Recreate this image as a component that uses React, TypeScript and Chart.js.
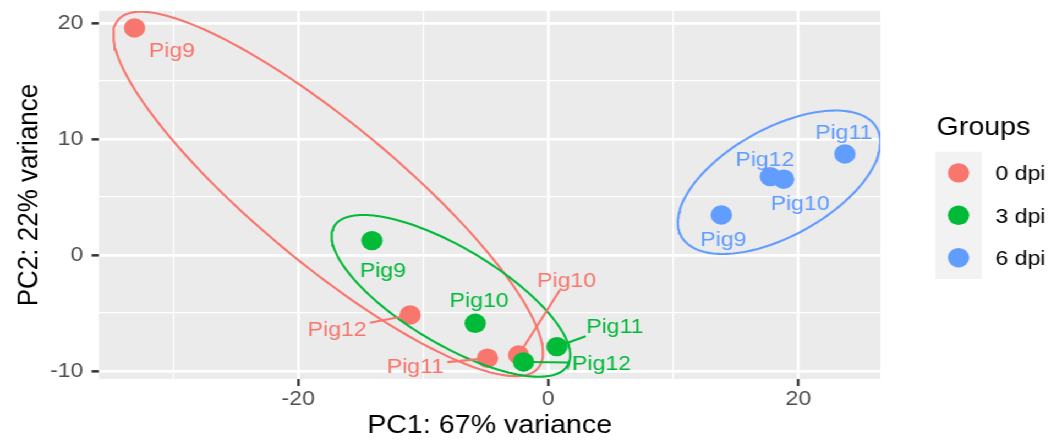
import React, { useEffect, useRef } from 'react';
import { Chart, registerables } from 'chart.js';

Chart.register(...registerables);

// ---------- data ----------
const GROUPS = ['0 dpi', '3 dpi', '6 dpi'];
const SAMPLES = ['Pig9', 'Pig10', 'Pig11', 'Pig12'];

const PC1_0DPI = [-33.08, -2.37, -4.86, -11.04];
const PC2_0DPI = [19.57, -8.62, -8.9, -5.17];
const PC1_3DPI = [-14.1, -5.84, 0.69, -1.98];
const PC2_3DPI = [1.24, -5.89, -7.9, -9.22];
const PC1_6DPI = [13.84, 18.82, 23.72, 17.76];
const PC2_6DPI = [3.45, 6.53, 8.71, 6.75];

// confidence ellipses:
// [centre PC1, centre PC2, semi-diameter A (PC1, PC2), semi-diameter B (PC1, PC2)]
const ELLIPSE_0DPI = [-17.6, 5.26, 16.8, -15.0, -3.58, -4.65];
const ELLIPSE_3DPI = [-7.78, -3.52, 9.54, -5.13, 0, -4.72];
const ELLIPSE_6DPI = [18.46, 6.27, 8.1, 3.45, 0, -5.13];

const X_TICKS = [-30, -20, -10, 0, 10, 20];
const X_TICK_LABELS = [-20, 0, 20];
const Y_TICKS = [-10, -5, 0, 5, 10, 15, 20];
const Y_TICK_LABELS = [-10, 0, 10, 20];
const X_RANGE = [-35.92, 26.56];
const Y_RANGE = [-10.69, 21.03];

const X_TITLE = 'PC1: 67% variance';
const Y_TITLE = 'PC2: 22% variance';
const LEGEND_TITLE = 'Groups';

// ---------- style / layout ----------
const COLORS = ['#F8766D', '#00BA38', '#619CFF'];
const FONT = "'Liberation Sans', Arial, Helvetica, sans-serif";
const SX = 1062 / 965; // horizontal stretch of the reference picture
const W = 965;
const H = 441;
const PANEL = { left: 90, right: 800, top: 11, bottom: 379 };
const POINT_R = 9.7;
const LINE_W = 2.1;

// label placement (repelled text) relative to its point, in px: [dx, dy, leader line]
const LABEL_LAYOUT: [number, number, boolean][][] = [
  [[34, 21.5, false], [43.6, -75.5, true], [-65.5, 7, true], [-66.4, 14, true]],
  [[10, 29, false], [3.6, -24, false], [52.7, -21, true], [71, 1, true]],
  [[1.8, 24, false], [15, 23, false], [-1, -22, false], [-5, -18, false]],
];

const SERIES = [
  { x: PC1_0DPI, y: PC2_0DPI, e: ELLIPSE_0DPI },
  { x: PC1_3DPI, y: PC2_3DPI, e: ELLIPSE_3DPI },
  { x: PC1_6DPI, y: PC2_6DPI, e: ELLIPSE_6DPI },
];

function ellipsePath(e: number[]) {
  const [cx, cy, ax, ay, bx, by] = e;
  const pts: { x: number; y: number }[] = [];
  const n = 160;
  for (let i = 0; i <= n; i++) {
    const t = (i / n) * Math.PI * 2;
    const c = Math.cos(t);
    const s = Math.sin(t);
    pts.push({ x: cx + ax * c + bx * s, y: cy + ay * c + by * s });
  }
  return pts;
}

const panelBg = {
  id: 'panelBg',
  beforeDraw(chart: any) {
    const { ctx, chartArea } = chart;
    ctx.save();
    ctx.fillStyle = '#EBEBEB';
    ctx.fillRect(chartArea.left, chartArea.top, chartArea.right - chartArea.left, chartArea.bottom - chartArea.top);
    ctx.restore();
  },
};

const LABEL_FS = 21;

const repelLabels = {
  id: 'repelLabels',
  afterDatasetsDraw(chart: any) {
    const { ctx } = chart;
    const xs = chart.scales.x;
    const ys = chart.scales.y;
    ctx.save();
    ctx.font = `${LABEL_FS}px ${FONT}`;
    SERIES.forEach((s, gi) => {
      s.x.forEach((xv, i) => {
        const px = xs.getPixelForValue(xv);
        const py = ys.getPixelForValue(s.y[i]);
        const [dx, dy, seg] = LABEL_LAYOUT[gi][i];
        const cx = px + dx;
        const cy = py + dy;
        const text = SAMPLES[i];
        const w = ctx.measureText(text).width;
        ctx.fillStyle = COLORS[gi];
        ctx.strokeStyle = COLORS[gi];
        if (seg) {
          const ddx = px - cx;
          const ddy = py - cy;
          const hw = w / 2 + 3;
          const hh = LABEL_FS * 0.36 + 3;
          const t = Math.min(ddx !== 0 ? hw / Math.abs(ddx) : Infinity, ddy !== 0 ? hh / Math.abs(ddy) : Infinity);
          const sx = cx + ddx * t;
          const sy = cy + ddy * t;
          const len = Math.hypot(ddx, ddy);
          const ex = px - (ddx / len) * (POINT_R * 0.6);
          const ey = py - (ddy / len) * (POINT_R * 0.6);
          ctx.lineWidth = LINE_W;
          ctx.beginPath();
          ctx.moveTo(sx, sy);
          ctx.lineTo(ex, ey);
          ctx.stroke();
        }
        ctx.textAlign = 'center';
        ctx.textBaseline = 'alphabetic';
        ctx.fillText(text, cx, cy + 0.358 * LABEL_FS);
      });
    });
    ctx.restore();
  },
};

const ggLegend = {
  id: 'ggLegend',
  afterDraw(chart: any) {
    const { ctx } = chart;
    ctx.save();
    ctx.fillStyle = '#000000';
    ctx.font = `26px ${FONT}`;
    ctx.textAlign = 'left';
    ctx.textBaseline = 'alphabetic';
    ctx.fillText(LEGEND_TITLE, 851, 135);
    const keyTop = 151.7;
    const keyH = 42.4;
    ctx.fillStyle = '#F2F2F2';
    ctx.fillRect(850, keyTop, 42, keyH * GROUPS.length);
    GROUPS.forEach((g, i) => {
      const cy = keyTop + keyH * (i + 0.5);
      ctx.fillStyle = COLORS[i];
      ctx.beginPath();
      ctx.arc(871, cy, POINT_R, 0, Math.PI * 2);
      ctx.fill();
      ctx.fillStyle = '#000000';
      ctx.font = `21px ${FONT}`;
      ctx.fillText(g, 904.5, cy + 0.358 * 21);
    });
    ctx.restore();
  },
};

export default function App() {
  const ref = useRef<HTMLCanvasElement>(null);
  useEffect(() => {
    if (!ref.current) return;
    const pointSets = SERIES.map((s, gi) => ({
      type: 'scatter' as const,
      label: GROUPS[gi],
      data: s.x.map((x, i) => ({ x, y: s.y[i] })),
      backgroundColor: COLORS[gi],
      borderWidth: 0,
      pointRadius: POINT_R,
      pointHoverRadius: POINT_R,
      order: 5 - gi,
    }));
    const ellipseSets = SERIES.map((s, gi) => ({
      type: 'scatter' as const,
      label: GROUPS[gi] + ' ellipse',
      data: ellipsePath(s.e),
      showLine: true,
      borderColor: COLORS[gi],
      borderWidth: LINE_W,
      pointRadius: 0,
      fill: false,
      tension: 0,
      order: 2 - gi,
    }));
    const chart = new Chart(ref.current, {
      type: 'scatter',
      data: { datasets: [...pointSets, ...ellipseSets] as any },
      plugins: [panelBg, repelLabels, ggLegend],
      options: {
        animation: false,
        responsive: false,
        devicePixelRatio: 1,
        layout: { padding: { left: 0, top: PANEL.top, right: W - PANEL.right, bottom: 0 } },
        plugins: { legend: { display: false }, tooltip: { enabled: false } },
        scales: {
          x: {
            type: 'linear',
            position: 'bottom',
            min: X_RANGE[0],
            max: X_RANGE[1],
            afterBuildTicks: (s: any) => {
              s.ticks = X_TICKS.map((v) => ({ value: v }));
            },
            afterFit: (s: any) => {
              s.height = H - PANEL.bottom;
              s.paddingLeft = 0;
              s.paddingRight = 0;
              s.paddingTop = 0;
              s.paddingBottom = 0;
            },
            ticks: {
              autoSkip: false,
              maxRotation: 0,
              padding: 0.5,
              color: '#4D4D4D',
              font: { size: 21, family: FONT },
              callback: (v: any) => (X_TICK_LABELS.includes(Number(v)) ? String(v) : ''),
            },
            grid: {
              color: '#FFFFFF',
              lineWidth: (c: any) => (c.tick && X_TICK_LABELS.includes(c.tick.value) ? 2.5 : 1.25),
              tickColor: (c: any) => (c.tick && X_TICK_LABELS.includes(c.tick.value) ? '#333333' : 'rgba(0,0,0,0)'),
              tickLength: 7,
              tickWidth: 2.3,
            },
            border: { display: false },
            title: {
              display: true,
              text: X_TITLE,
              color: '#000000',
              font: { size: 26, family: FONT },
              padding: { top: 0, bottom: 0 },
            },
          },
          y: {
            type: 'linear',
            position: 'left',
            min: Y_RANGE[0],
            max: Y_RANGE[1],
            afterBuildTicks: (s: any) => {
              s.ticks = Y_TICKS.map((v) => ({ value: v }));
            },
            afterFit: (s: any) => {
              s.width = PANEL.left;
              s.paddingLeft = 0;
              s.paddingRight = 0;
              s.paddingTop = 0;
              s.paddingBottom = 0;
            },
            ticks: {
              autoSkip: false,
              padding: 7.5,
              color: '#4D4D4D',
              font: { size: 21, family: FONT },
              callback: (v: any) => (Y_TICK_LABELS.includes(Number(v)) ? String(v) : ''),
            },
            grid: {
              color: '#FFFFFF',
              lineWidth: (c: any) => (c.tick && Y_TICK_LABELS.includes(c.tick.value) ? 2.7 : 1.35),
              tickColor: (c: any) => (c.tick && Y_TICK_LABELS.includes(c.tick.value) ? '#333333' : 'rgba(0,0,0,0)'),
              tickLength: 6.7,
              tickWidth: 2.5,
            },
            border: { display: false },
            title: {
              display: true,
              text: Y_TITLE,
              color: '#000000',
              font: { size: 26, family: FONT },
              padding: { top: 11.7, bottom: 0 },
            },
          },
        },
      } as any,
    });
    return () => chart.destroy();
  }, []);
  return (
    <div
      style={{
        position: 'absolute',
        left: 0,
        top: 0,
        width: W,
        height: H,
        transform: `scaleX(${SX})`,
        transformOrigin: '0 0',
        background: '#FFFFFF',
      }}
    >
      <canvas ref={ref} width={W} height={H} style={{ display: 'block' }} />
    </div>
  );
}
